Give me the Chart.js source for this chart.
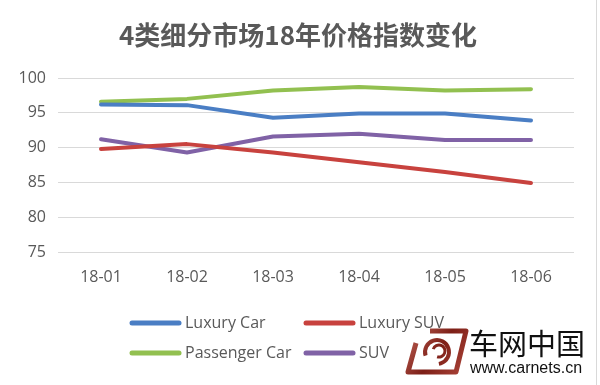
<!DOCTYPE html>
<html>
<head>
<meta charset="utf-8">
<script src="https://cdn.jsdelivr.net/npm/chart.js@4.4.1/dist/chart.umd.min.js"></script>
<style>
  html, body { margin: 0; padding: 0; background: #fff; }
  #wrap { width: 600px; height: 385px; }
</style>
</head>
<body>
<div id="wrap"><canvas id="priceChart" width="600" height="385"></canvas></div>
<script>
// data block
const months = ['18-01', '18-02', '18-03', '18-04', '18-05', '18-06'];
const luxuryCar = [96.2, 96.1, 94.3, 94.9, 94.9, 93.9];
const luxurySuv = [89.8, 90.5, 89.3, 87.9, 86.5, 84.9];
const passengerCar = [96.6, 97.0, 98.2, 98.7, 98.2, 98.4];
const suv = [91.2, 89.3, 91.6, 92.0, 91.1, 91.1];
const yTicks = [75, 80, 85, 90, 95, 100];

const textColor = '#595959';
const gridColor = '#d9d9d9';

function series(label, values, color) {
    return {
        label: label,
        data: values,
        borderColor: color,
        backgroundColor: color,
        borderWidth: 4,
        pointRadius: 0,
        pointHoverRadius: 0,
        tension: 0,
        borderCapStyle: 'round',
        borderJoinStyle: 'round'
    };
}

// title + frame plugin
const titleAndFrame = {
    id: 'titleAndFrame',
    afterDraw(chart) {
        const {ctx} = chart;
        ctx.save();
        ctx.font = 'bold 26px "Noto Sans CJK SC"';
        ctx.fillStyle = textColor;
        ctx.textAlign = 'center';
        ctx.textBaseline = 'middle';
        ctx.fillText('4类细分市场18年价格指数变化', 298, 35);

        // right edge of the chart frame
        ctx.strokeStyle = '#d9d9d9';
        ctx.lineWidth = 1;
        ctx.beginPath();
        ctx.moveTo(596.5, 0);
        ctx.lineTo(596.5, 385);
        ctx.stroke();
        ctx.restore();
    }
};

// legend plugin, 2 x 2 grid
const gridLegend = {
    id: 'gridLegend',
    afterDraw(chart) {
        const {ctx} = chart;
        const cols = [132, 306];
        const rows = [323, 353];
        ctx.save();
        ctx.font = '16px "Open Sans"';
        ctx.textBaseline = 'middle';
        ctx.textAlign = 'left';
        chart.data.datasets.forEach((ds, i) => {
            const x = cols[i % 2];
            const y = rows[Math.floor(i / 2)];
            ctx.strokeStyle = ds.borderColor;
            ctx.lineWidth = 5;
            ctx.lineCap = 'round';
            ctx.beginPath();
            ctx.moveTo(x, y);
            ctx.lineTo(x + 47, y);
            ctx.stroke();
            ctx.fillStyle = textColor;
            ctx.fillText(ds.label, x + 53, y);
        });
        ctx.restore();
    }
};

// watermark plugin
const watermark = {
    id: 'watermark',
    afterDraw(chart) {
        const {ctx} = chart;
        ctx.save();
        // logo frame
        const grad = ctx.createLinearGradient(405, 330, 468, 375);
        grad.addColorStop(0, '#c2665a');
        grad.addColorStop(0.5, '#7d1f17');
        grad.addColorStop(1, '#b0483c');
        ctx.strokeStyle = grad;
        ctx.lineWidth = 5;
        ctx.lineJoin = 'round';
        ctx.beginPath();
        ctx.moveTo(430, 331);
        ctx.lineTo(466, 331);
        ctx.lineTo(456, 372);
        ctx.lineTo(408, 372);
        ctx.lineTo(416, 343);
        ctx.stroke();
        // swirl
        ctx.lineWidth = 4;
        ctx.beginPath();
        ctx.arc(437, 352, 12, Math.PI * 0.9, Math.PI * 2.45);
        ctx.stroke();
        ctx.lineWidth = 3;
        ctx.beginPath();
        ctx.arc(439, 351, 6, Math.PI * 1.1, Math.PI * 2.6);
        ctx.stroke();

        ctx.fillStyle = '#111';
        ctx.textAlign = 'left';
        ctx.textBaseline = 'middle';
        ctx.font = '29px "Noto Sans CJK SC"';
        ctx.fillText('车网中国', 469, 344);
        ctx.font = '16px "Liberation Sans"';
        ctx.fillText('www.carnets.cn', 470, 369, 118);
        ctx.restore();
    }
};

const config = {
    type: 'line',
    data: {
        labels: months,
        datasets: [
            series('Luxury Car', luxuryCar, '#4a7ec4'),
            series('Luxury SUV', luxurySuv, '#c8423e'),
            series('Passenger Car', passengerCar, '#92c050'),
            series('SUV', suv, '#8062a6')
        ]
    },
    options: {
        responsive: false,
        animation: false,
        layout: {
            padding: {top: 78, right: 26, bottom: 100, left: 0}
        },
        scales: {
            x: {
                offset: true,
                grid: {display: false, drawTicks: false},
                border: {display: false},
                ticks: {
                    color: textColor,
                    font: {family: 'Open Sans', size: 16},
                    padding: 16,
                    maxRotation: 0
                },
                afterFit(scale) {
                    scale.height = 33;
                }
            },
            y: {
                min: 75,
                max: 100,
                afterBuildTicks(scale) {
                    scale.ticks = yTicks.map(v => ({value: v}));
                },
                grid: {color: gridColor, lineWidth: 1, drawTicks: false},
                border: {display: false},
                ticks: {
                    color: textColor,
                    font: {family: 'Open Sans', size: 16},
                    padding: 12
                },
                afterFit(scale) {
                    scale.width = 58;
                }
            }
        },
        plugins: {
            legend: {display: false},
            tooltip: {enabled: false},
            title: {display: false}
        }
    },
    plugins: [titleAndFrame, gridLegend, watermark]
};

const priceChart = new Chart(document.getElementById('priceChart'), config);
</script>
</body>
</html>
